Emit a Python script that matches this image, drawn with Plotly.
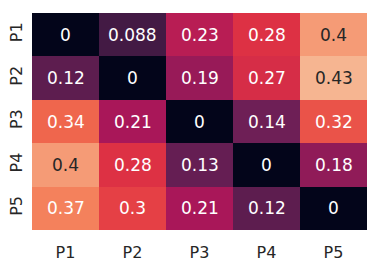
import plotly.graph_objects as go

labels = ["P1", "P2", "P3", "P4", "P5"]
values = [
    [0, 0.088, 0.23, 0.28, 0.4],
    [0.12, 0, 0.19, 0.27, 0.43],
    [0.34, 0.21, 0, 0.14, 0.32],
    [0.4, 0.28, 0.13, 0, 0.18],
    [0.37, 0.3, 0.21, 0.12, 0],
]
vmin, vmax = 0.0, 0.5

rocket = [
    [0.0, "#03051a"],
    [1 / 7, "#35193e"],
    [2 / 7, "#701f57"],
    [3 / 7, "#ad1759"],
    [4 / 7, "#e13342"],
    [5 / 7, "#f37651"],
    [6 / 7, "#f6b48f"],
    [1.0, "#faebdd"],
]


def hex2rgb(h):
    h = h.lstrip("#")
    return [int(h[i:i + 2], 16) / 255 for i in (0, 2, 4)]


def color_at(t):
    t = min(max(t, 0), 1)
    for (p0, c0), (p1, c1) in zip(rocket[:-1], rocket[1:]):
        if p0 <= t <= p1:
            f = (t - p0) / (p1 - p0) if p1 > p0 else 0
            a, b = hex2rgb(c0), hex2rgb(c1)
            return [a[i] + (b[i] - a[i]) * f for i in range(3)]
    return hex2rgb(rocket[-1][1])


def lum(rgb):
    out = []
    for c in rgb:
        out.append(c / 12.92 if c <= 0.03928 else ((c + 0.055) / 1.055) ** 2.4)
    return 0.2126 * out[0] + 0.7152 * out[1] + 0.0722 * out[2]


def fmt(v):
    return format(v, ".2g")


fig = go.Figure(
    go.Heatmap(
        z=values,
        x=labels,
        y=labels,
        colorscale=rocket,
        zmin=vmin,
        zmax=vmax,
        showscale=False,
        hoverinfo="skip",
    )
)

for i, row in enumerate(values):
    for j, v in enumerate(row):
        c = color_at((v - vmin) / (vmax - vmin))
        tc = "#262626" if lum(c) > 0.408 else "white"
        fig.add_annotation(
            x=labels[j], y=labels[i], text=fmt(v), showarrow=False,
            font=dict(family="DejaVu Sans", size=17, color=tc),
        )

fig.update_layout(
    width=379,
    height=262,
    margin=dict(l=32, r=12, t=13, b=32),
    paper_bgcolor="white",
    plot_bgcolor="white",
    font=dict(family="DejaVu Sans", size=16, color="#262626"),
)
fig.update_xaxes(showgrid=False, zeroline=False, ticks="outside", ticklen=8,
                 tickcolor="rgba(0,0,0,0)", automargin=False,
                 tickfont=dict(size=16, color="#262626"))
fig.update_yaxes(showgrid=False, zeroline=False, ticks="outside", ticklen=3,
                 tickcolor="rgba(0,0,0,0)", autorange="reversed", automargin=False,
                 tickangle=-90, tickfont=dict(size=16, color="#262626"))

fig.write_html(
    "out.html",
    config={"displayModeBar": False},
    post_script="document.body.style.margin='0';document.body.style.overflow='hidden';",
)
